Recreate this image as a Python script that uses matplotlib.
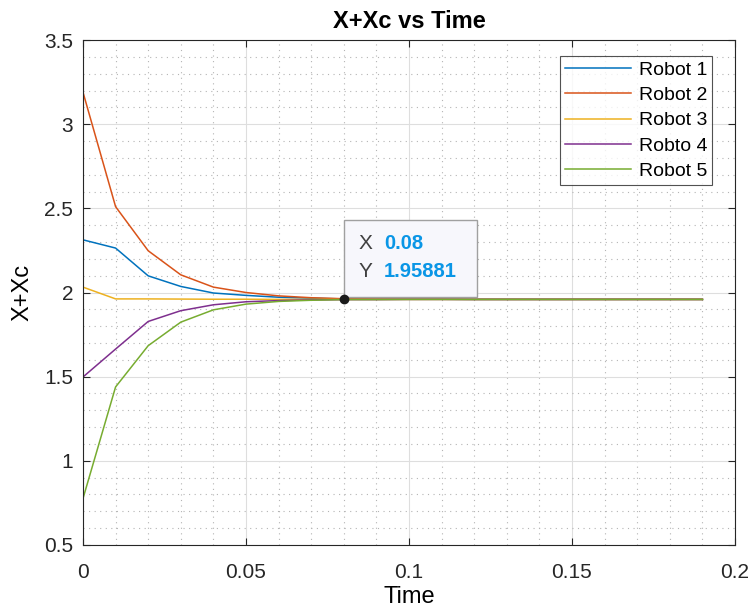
import numpy as np
import matplotlib.pyplot as plt
from matplotlib.ticker import MultipleLocator
from matplotlib.patches import Rectangle

plt.rcParams['font.family'] = ['Liberation Sans', 'DejaVu Sans']

time = np.round(np.arange(0, 0.20, 0.01), 2)
robot1 = [2.313, 2.264, 2.099, 2.036, 1.997, 1.983, 1.972, 1.966, 1.962, 1.961,
          1.960, 1.960, 1.959, 1.959, 1.959, 1.959, 1.959, 1.959, 1.959, 1.959]
robot2 = [3.19, 2.51, 2.248, 2.105, 2.032, 2.000, 1.980, 1.969, 1.963, 1.961,
          1.960, 1.960, 1.959, 1.959, 1.959, 1.959, 1.959, 1.959, 1.959, 1.959]
robot3 = [2.032, 1.962, 1.962, 1.961, 1.960, 1.960, 1.959, 1.959, 1.959, 1.959,
          1.959, 1.959, 1.959, 1.959, 1.959, 1.959, 1.959, 1.959, 1.959, 1.959]
robot4 = [1.498, 1.664, 1.828, 1.892, 1.927, 1.945, 1.952, 1.956, 1.958, 1.958,
          1.959, 1.959, 1.959, 1.959, 1.959, 1.959, 1.959, 1.959, 1.959, 1.959]
robot5 = [0.776, 1.439, 1.684, 1.824, 1.897, 1.931, 1.947, 1.954, 1.958, 1.958,
          1.959, 1.959, 1.959, 1.959, 1.959, 1.959, 1.959, 1.959, 1.959, 1.959]
labels = ['Robot 1', 'Robot 2', 'Robot 3', 'Robto 4', 'Robot 5']
colors = ['#0072BD', '#D95319', '#EDB120', '#7E2F8E', '#77AC30']
tip_x, tip_y = 0.08, 1.95881

fig = plt.figure(figsize=(7.51, 6.16), dpi=100)
ax = fig.add_axes([0.1105, 0.1153, 0.8682, 0.8197])

for ys, lab, c in zip([robot1, robot2, robot3, robot4, robot5], labels, colors):
    ax.plot(time, ys, color=c, lw=1.1, label=lab)

ax.set_xlim(0, 0.2)
ax.set_ylim(0.5, 3.5)
ax.xaxis.set_minor_locator(MultipleLocator(0.01))
ax.yaxis.set_minor_locator(MultipleLocator(0.1))
ax.set_xticks([0, 0.05, 0.1, 0.15, 0.2])
ax.set_xticklabels(['0', '0.05', '0.1', '0.15', '0.2'])
ax.set_yticks([0.5, 1, 1.5, 2, 2.5, 3, 3.5])
ax.set_yticklabels(['0.5', '1', '1.5', '2', '2.5', '3', '3.5'])
ax.grid(which='major', color='#dedede', lw=0.8)
ax.grid(which='minor', color='#b4b4b4', lw=0.8, ls=(0, (1, 4)))
ax.set_axisbelow(True)
ax.tick_params(which='both', direction='in', top=True, right=True,
               labelsize=15, colors='#262626')
ax.tick_params(axis='x', pad=13)
ax.tick_params(axis='y', pad=7)
ax.tick_params(which='major', length=5)
ax.tick_params(which='minor', length=0)
for s in ax.spines.values():
    s.set_color('#262626')
    s.set_linewidth(0.8)

ax.set_title('X+Xc vs Time', fontsize=17, fontweight='bold', pad=9)
ax.set_xlabel('Time', fontsize=17, labelpad=3)
ax.set_ylabel('X+Xc', fontsize=17, labelpad=8)

leg = ax.legend(loc='upper right', bbox_to_anchor=(0.9647, 0.968), fontsize=14,
                frameon=True, fancybox=False, edgecolor='#262626',
                handlelength=3.4, handletextpad=0.4, labelspacing=0.4,
                borderaxespad=0, borderpad=0.25)
leg.get_frame().set_linewidth(0.8)

# data tip
ax.plot([tip_x], [tip_y], 'o', color='#1a1a1a', ms=6, zorder=5)
ax.add_patch(Rectangle((0.0801, 1.973), 0.0408, 0.458, facecolor='#f7f7fc',
                       edgecolor='#a0a0a0', lw=1.0, zorder=4))
ax.text(0.0844, 2.294, 'X', fontsize=15, color='#404040', va='center', zorder=6)
ax.text(0.0923, 2.294, '0.08', fontsize=14.5, color='#0a96e6', va='center',
        fontweight='bold', zorder=6)
ax.text(0.0844, 2.122, 'Y', fontsize=15, color='#404040', va='center', zorder=6)
ax.text(0.0923, 2.122, '1.95881', fontsize=14.5, color='#0a96e6', va='center',
        fontweight='bold', zorder=6)

fig.savefig('out.png', dpi=100)
